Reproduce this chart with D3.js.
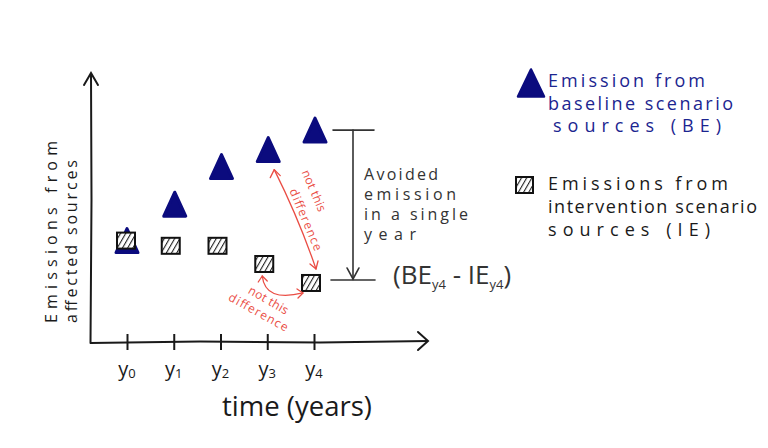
<!DOCTYPE html>
<html><head><meta charset="utf-8">
<script src="https://cdn.jsdelivr.net/npm/d3@7"></script>
<style>html,body{margin:0;padding:0;background:#fff;}svg{display:block;}</style>
</head><body>
<script>
const years = ["0","1","2","3","4"];
const baselineBE = [3.9, 5.3, 6.75, 7.4, 8.15];
const interventionIE = [3.9, 3.7, 3.7, 3.0, 2.27];
const legendBE = ["Emission from", "baseline scenario", "sources (BE)"];
const legendIE = ["Emissions from", "intervention scenario", "sources (IE)"];
const avoidedLines = ["Avoided", "emission", "in a single", "year"];
const yLabelLines = ["Emissions from", "affected sources"];

const W = 768, H = 448;
const FONT = "'Open Sans', 'DejaVu Sans', sans-serif";
const NAVY = "#0b0b7e", RED = "#ea4d44", INK = "#1a1a1a";

const svg = d3.select("body").append("svg").attr("width", W).attr("height", H);
const defs = svg.append("defs");
const pat = defs.append("pattern").attr("id","hatch").attr("patternUnits","userSpaceOnUse")
  .attr("width",4.5).attr("height",4.5).attr("patternTransform","rotate(30)");
pat.append("rect").attr("width",4.5).attr("height",4.5).attr("fill","#fff");
pat.append("line").attr("x1",0).attr("y1",0).attr("x2",0).attr("y2",4.5).attr("stroke","#222").attr("stroke-width",2.2);

const x = d3.scaleLinear().domain([0,4]).range([127, 314]);
const y = d3.scaleLinear().domain([0,10]).range([342, 82]);

// axes
const g = svg.append("g");
g.append("path").attr("d","M91,73 L91.5,200 L90.5,343 L200,341.5 L320,342.5 L428,341")
  .attr("fill","none").attr("stroke",INK).attr("stroke-width",2).attr("stroke-linejoin","round");
g.append("path").attr("d","M84,85 L91,73 L98,85").attr("fill","none").attr("stroke",INK).attr("stroke-width",2).attr("stroke-linecap","round");
g.append("path").attr("d","M418,332 L428,341 L418,350").attr("fill","none").attr("stroke",INK).attr("stroke-width",2).attr("stroke-linecap","round");

const xAxis = d3.axisBottom(x).tickValues(d3.range(years.length)).tickFormat("").tickSizeOuter(0).tickSizeInner(16);
const ax = svg.append("g").attr("transform","translate(0,334)").call(xAxis);
ax.select(".domain").remove();
ax.selectAll(".tick line").attr("stroke",INK).attr("stroke-width",2);

const tl = svg.append("g").selectAll("text").data(years).join("text")
  .attr("x",(d,i)=>x(i)).attr("y",376).attr("text-anchor","middle")
  .attr("font-family",FONT).attr("font-size",20).attr("fill",INK);
tl.append("tspan").text("y");
tl.append("tspan").attr("font-size",13).attr("dy",2).text(d=>d);

svg.append("text").attr("x",297).attr("y",416).attr("text-anchor","middle")
  .attr("font-family",FONT).attr("font-size",27).attr("fill",INK)
  .attr("textLength",150).attr("lengthAdjust","spacingAndGlyphs").text("time (years)");

// y label
const yl = svg.append("g").attr("transform","translate(57,323) rotate(-90)");
yl.selectAll("text").data(yLabelLines).join("text")
  .attr("x",0).attr("y",(d,i)=>i*20).attr("font-family",FONT).attr("font-size",16).attr("fill",INK)
  .attr("textLength",(d,i)=>i===0?182:163).attr("lengthAdjust","spacing").text(d=>d);

// triangle path helper
function tri(cx, cy, w, h){
  return `M${cx},${cy-h/2} L${cx+w/2},${cy+h/2} L${cx-w/2},${cy+h/2} Z`;
}

// BE triangles
svg.append("g").selectAll("path").data(baselineBE).join("path")
  .attr("d",(d,i)=>tri(x(i)+(i===0?0:1), y(d), 22, 24))
  .attr("fill",NAVY).attr("stroke",NAVY).attr("stroke-width",3).attr("stroke-linejoin","round");

// IE squares
svg.append("g").selectAll("rect").data(interventionIE).join("rect")
  .attr("x",(d,i)=>x(i)-(i===0?1:3)-9).attr("y",d=>y(d)-8).attr("width",18).attr("height",16)
  .attr("fill","url(#hatch)").attr("stroke","#111").attr("stroke-width",2);

// avoided emission bracket
const last = years.length-1;
const yTop = y(baselineBE[last]), yBot = y(interventionIE[last]) - 3;
const ann = svg.append("g").attr("stroke","#333").attr("stroke-width",1.6).attr("fill","none").attr("stroke-linecap","round");
ann.append("line").attr("x1",333).attr("x2",374).attr("y1",yTop).attr("y2",yTop);
ann.append("line").attr("x1",331).attr("x2",375).attr("y1",yBot).attr("y2",yBot);
ann.append("line").attr("x1",353).attr("x2",353).attr("y1",yTop).attr("y2",yBot-1);
ann.append("path").attr("d",`M347,${yBot-12} L353,${yBot-1} L359,${yBot-12}`);

svg.append("g").selectAll("text").data(avoidedLines).join("text")
  .attr("x",364).attr("y",(d,i)=>180+i*20).attr("font-family",FONT).attr("font-size",16).attr("fill","#333")
  .attr("textLength",(d,i)=>[74,92,104,52][i]).attr("lengthAdjust","spacing").text(d=>d);

const form = svg.append("text").attr("x",393).attr("y",284).attr("font-family",FONT).attr("font-size",26).attr("fill","#333");
form.append("tspan").text("(BE");
form.append("tspan").attr("font-size",13).attr("dy",5).text("y4");
form.append("tspan").attr("dy",-5).text(" - IE");
form.append("tspan").attr("font-size",13).attr("dy",5).text("y4");
form.append("tspan").attr("dy",-5).text(")");

// red annotations
const r = svg.append("g").attr("stroke",RED).attr("stroke-width",1.3).attr("fill","none").attr("stroke-linecap","round").attr("stroke-linejoin","round");
const a1 = [x(3)+7, y(baselineBE[3])+20], b1 = [x(4)+2, y(interventionIE[3])+5];
r.append("path").attr("d",`M${a1[0]},${a1[1]} Q${(a1[0]+b1[0])/2+4},${(a1[1]+b1[1])/2} ${b1[0]},${b1[1]}`);
r.append("path").attr("d",`M${a1[0]-4},${a1[1]+8} L${a1[0]},${a1[1]} L${a1[0]+6},${a1[1]+6}`);
r.append("path").attr("d",`M${b1[0]-6},${b1[1]-5} L${b1[0]},${b1[1]} L${b1[0]+2},${b1[1]-8}`);
const a2 = [x(3)-5, y(interventionIE[3])+12], b2 = [x(4)-11, y(interventionIE[4])+10];
r.append("path").attr("d",`M${a2[0]},${a2[1]} C${a2[0]+2},${a2[1]+18} ${b2[0]-25},${b2[1]+6} ${b2[0]},${b2[1]}`);
r.append("path").attr("d",`M${a2[0]-4},${a2[1]+6} L${a2[0]},${a2[1]} L${a2[0]+5},${a2[1]+5}`);
r.append("path").attr("d",`M${b2[0]-6},${b2[1]-4} L${b2[0]},${b2[1]} L${b2[0]-5},${b2[1]+5}`);

function redText(t, cx, cy, ang, len){
  svg.append("text").attr("transform",`translate(${cx},${cy}) rotate(${ang})`)
    .attr("text-anchor","middle").attr("dominant-baseline","middle")
    .attr("font-family",FONT).attr("font-size",12).attr("fill",RED)
    .attr("textLength",len).attr("lengthAdjust","spacing").text(t);
}
redText("not this", 313, 191, 67, 44);
redText("difference", 305, 220, 67, 66);
redText("not this", 268, 301, 30, 44);
redText("difference", 258, 313, 29, 66);

// legend
const lg1 = svg.append("g");
lg1.append("path").attr("d",tri(531,83,26,27)).attr("fill",NAVY).attr("stroke",NAVY).attr("stroke-width",2.5).attr("stroke-linejoin","round");
lg1.selectAll("text").data(legendBE).join("text")
  .attr("x",(d,i)=>i===2?553:548).attr("y",(d,i)=>87+i*22.5).attr("font-family",FONT).attr("font-size",18).attr("fill","#1b2590")
  .attr("textLength",(d,i)=>[157,185,168][i]).attr("lengthAdjust","spacing").text(d=>d);

const lg2 = svg.append("g");
lg2.append("rect").attr("x",516).attr("y",177).attr("width",17).attr("height",16).attr("fill","url(#hatch)").attr("stroke","#111").attr("stroke-width",2);
lg2.selectAll("text").data(legendIE).join("text")
  .attr("x",548).attr("y",(d,i)=>190+i*23).attr("font-family",FONT).attr("font-size",18).attr("fill",INK)
  .attr("textLength",(d,i)=>[180,209,162][i]).attr("lengthAdjust","spacing").text(d=>d);
</script>
</body></html>
